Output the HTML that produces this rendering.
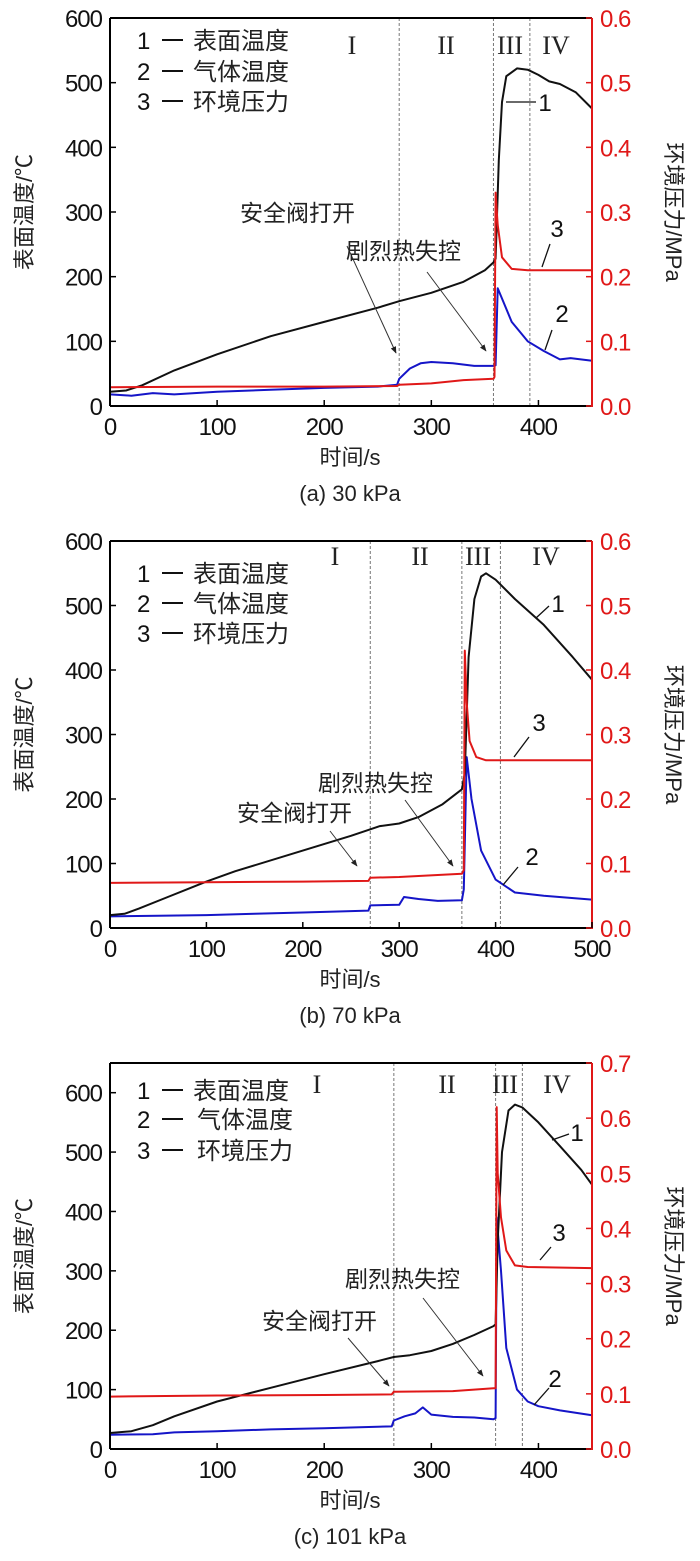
<!DOCTYPE html>
<html><head><meta charset="utf-8">
<style>
html,body{margin:0;padding:0;background:#fff;}
svg{display:block;}
text{font-family:"Liberation Sans","Noto Sans CJK SC",sans-serif;}
</style></head>
<body>
<svg id="chart" xmlns="http://www.w3.org/2000/svg" width="700" height="1561" viewBox="0 0 700 1561"></svg>
<script>
// ---- Panel (a) 30 kPa ----
const aTimeSurface = [0,15,30,60,100,150,200,250,270,300,330,350,358,360,363,366,370,380,390,400,410,420,435,450];
const aSurfaceTemp = [22,24,32,55,80,108,130,152,162,175,192,210,222,228,380,470,510,522,520,512,502,498,485,460];
const aTimeGas = [0,20,40,60,100,150,200,250,268,270,280,290,300,320,340,358,360,362,365,375,390,405,420,430,450];
const aGasTemp = [18,16,20,18,22,25,28,30,33,42,58,66,68,66,62,62,63,182,170,130,100,85,72,74,70];
const aTimePress = [0,100,200,268,270,300,330,358,359,360,362,366,375,390,450];
const aPressure = [0.029,0.030,0.030,0.031,0.033,0.035,0.040,0.042,0.045,0.33,0.28,0.23,0.212,0.21,0.21];
const aStageLines = [270,358,392];
const aLeftTicks = [0,100,200,300,400,500,600];
const aRightTicks = ["0.0","0.1","0.2","0.3","0.4","0.5","0.6"];
const aXTicks = [0,100,200,300,400];

// ---- Panel (b) 70 kPa ----
const bTimeSurface = [0,15,30,60,100,130,200,250,270,280,300,320,345,365,368,372,378,385,390,400,420,450,480,500];
const bSurfaceTemp = [20,22,30,48,72,88,120,143,153,158,162,172,192,215,240,420,510,545,550,540,510,470,420,385];
const bTimeGas = [0,50,100,150,200,268,270,300,305,320,340,365,367,370,375,385,400,420,450,500];
const bGasTemp = [18,19,20,22,24,27,35,36,48,45,42,43,60,265,200,120,75,55,50,44];
const bTimePress = [0,100,200,268,270,300,365,367,368,370,373,380,390,500];
const bPressure = [0.070,0.071,0.072,0.073,0.078,0.079,0.084,0.090,0.43,0.35,0.29,0.265,0.26,0.26];
const bStageLines = [270,365,405];
const bLeftTicks = [0,100,200,300,400,500,600];
const bRightTicks = ["0.0","0.1","0.2","0.3","0.4","0.5","0.6"];
const bXTicks = [0,100,200,300,400,500];

// ---- Panel (c) 101 kPa ----
const cTimeSurface = [0,20,40,60,100,150,200,250,265,280,300,320,340,358,360,362,366,372,378,385,400,420,440,450];
const cSurfaceTemp = [27,30,40,55,80,103,126,148,155,158,165,177,192,207,210,350,500,570,580,575,550,510,470,445];
const cTimeGas = [0,40,60,100,150,200,263,265,275,285,292,300,320,340,358,360,361,365,370,380,390,400,420,450];
const cGasTemp = [24,25,28,30,33,35,38,48,55,60,70,58,54,53,50,52,390,300,170,100,80,72,65,57];
const cTimePress = [0,100,200,263,265,320,358,360,361,362,365,370,378,390,450];
const cPressure = [0.095,0.097,0.098,0.099,0.104,0.105,0.110,0.110,0.62,0.50,0.42,0.36,0.333,0.330,0.328];
const cStageLines = [265,360,385];
const cLeftTicks = [0,100,200,300,400,500,600];
const cRightTicks = ["0.0","0.1","0.2","0.3","0.4","0.5","0.6","0.7"];
const cXTicks = [0,100,200,300,400];

const NS = "http://www.w3.org/2000/svg";
const svg = document.getElementById('chart');
function mk(tag, attrs, parent, txt){
  const e = document.createElementNS(NS, tag);
  for (const k in attrs) e.setAttribute(k, attrs[k]);
  if (txt !== undefined) e.textContent = txt;
  (parent||svg).appendChild(e);
  return e;
}
const defs = mk('defs',{});
const mkr = mk('marker',{id:'arr',viewBox:'0 0 10 10',refX:'9',refY:'5',markerWidth:'7',markerHeight:'7',orient:'auto-start-reverse'},defs);
mk('path',{d:'M0,1 L10,5 L0,9 z',fill:'#222'},mkr);

function panel(p){
  const g = mk('g',{});
  
  
  const X0=110, X1=592, Y0=p.top, Y1=p.bottom;
  const sx = v => X0 + v/p.xMax*(X1-X0);
  const sy = v => Y1 - v/p.yMax*(Y1-Y0);
  const sr = v => Y1 - v/p.rMax*(Y1-Y0);

  p.stages.forEach((s,i)=>{
    const l = mk('line',{x1:sx(s),x2:sx(s),y1:Y0,y2:Y1,stroke:'#777','stroke-width':1,'stroke-dasharray':'3,2'},g);
    
    
  });
  p.romans.forEach(r=>{
    const t = mk('text',{x:r[1],y:r[2],'font-size':26,'text-anchor':'middle',fill:'#222',style:'font-family:"Liberation Serif",serif'},g,r[0]);
    
    
  });

  function line(xs, ys, scale, color, name){
    let d='';
    xs.forEach((x,i)=>{ d += (i?'L':'M') + sx(x).toFixed(1) + ',' + scale(ys[i]).toFixed(1); });
    const pth = mk('path',{d:d,fill:'none',stroke:color,'stroke-width':2,'stroke-linejoin':'round'},g);
    
    
  }
  line(p.tg, p.gas, sy, '#1515c8', 'gas-temperature-line');
  line(p.ts, p.surf, sy, '#111', 'surface-temperature-line');
  line(p.tp, p.press, sr, '#e01818', 'pressure-line');

  mk('line',{x1:X0,x2:X1,y1:Y0,y2:Y0,stroke:'#000','stroke-width':2},g);
  const la = mk('line',{x1:X0,x2:X0,y1:Y0,y2:Y1,stroke:'#000','stroke-width':2},g);
  
  
  const xa = mk('line',{x1:X0,x2:X1,y1:Y1,y2:Y1,stroke:'#000','stroke-width':2},g);
  
  
  const ra = mk('line',{x1:X1,x2:X1,y1:Y0,y2:Y1+1,stroke:'#e01818','stroke-width':2},g);
  
  

  p.lt.forEach(v=>{
    const y = sy(v);
    mk('line',{x1:X0,x2:X0+6,y1:y,y2:y,stroke:'#000','stroke-width':1.5},g);
    const t = mk('text',{x:X0-8,y:y+9,'font-size':24,'text-anchor':'end',fill:'#111','letter-spacing':'-1'},g,String(v));
    
    
  });
  p.rt.forEach(v=>{
    const y = sr(parseFloat(v));
    mk('line',{x1:X1-6,x2:X1,y1:y,y2:y,stroke:'#e01818','stroke-width':1.5},g);
    const t = mk('text',{x:X1+8,y:y+9,'font-size':24,'text-anchor':'start',fill:'#e01818','letter-spacing':'-1'},g,v);
    
    
  });
  p.xt.forEach(v=>{
    const x = sx(v);
    mk('line',{x1:x,x2:x,y1:Y1,y2:Y1-6,stroke:'#000','stroke-width':1.5},g);
    const t = mk('text',{x:x,y:Y1+29,'font-size':24,'text-anchor':'middle',fill:'#111','letter-spacing':'-1'},g,String(v));
    
    
  });

  const cy = (Y0+Y1)/2;
  const yt = mk('text',{x:0,y:0,'font-size':22,'text-anchor':'middle',fill:'#222',transform:`translate(32,${cy}) rotate(-90)`},g,'表面温度/℃');
  
  
  const rtt = mk('text',{x:0,y:0,'font-size':22,'text-anchor':'middle',fill:'#222',transform:`translate(666,${cy}) rotate(90)`},g,'环境压力/MPa');
  
  
  const xt = mk('text',{x:350,y:Y1+59,'font-size':22,'text-anchor':'middle',fill:'#222'},g,'时间/s');
  
  
  const cap = mk('text',{x:350,y:Y1+95,'font-size':22,'text-anchor':'middle',fill:'#222'},g,p.caption);
  
  

  const names = ['表面温度','气体温度','环境压力'];
  p.legY.forEach((y,i)=>{
    const lg = mk('g',{},g);
    
    
    mk('text',{x:137,y:y+9,'font-size':24,fill:'#111'},lg,String(i+1));
    mk('line',{x1:162,x2:183,y1:y,y2:y,stroke:'#111','stroke-width':2},lg);
    mk('text',{x:p.legX[i],y:y+9,'font-size':24,fill:'#222'},lg,names[i]);
  });

  p.notes.forEach(n=>{
    const t = mk('text',{x:n.tx,y:n.ty,'font-size':23,fill:'#222'},g,n.text);
    
    
    const a = mk('line',{x1:n.a[0],y1:n.a[1],x2:n.a[2],y2:n.a[3],stroke:'#333','stroke-width':1,'marker-end':'url(#arr)'},g);
    
    
  });
  p.callouts.forEach(c=>{
    mk('line',{x1:c.l[0],y1:c.l[1],x2:c.l[2],y2:c.l[3],stroke:'#111','stroke-width':1.3},g);
    const t = mk('text',{x:c.x,y:c.y+9,'font-size':24,'text-anchor':'middle',fill:'#111'},g,c.t);
    
    
  });
}

panel({id:'a-30kpa', top:18, bottom:406, xMax:450, yMax:600, rMax:0.6,
  ts:aTimeSurface, surf:aSurfaceTemp, tg:aTimeGas, gas:aGasTemp, tp:aTimePress, press:aPressure,
  stages:aStageLines, lt:aLeftTicks, rt:aRightTicks, xt:aXTicks, caption:'(a) 30 kPa',
  romans:[['I',352,54],['II',446,54],['III',510,54],['IV',556,54]],
  legY:[40,71,101], legX:[193,193,193],
  notes:[{text:'安全阀打开',tx:240,ty:221,a:[347,246,396,353]},{text:'剧烈热失控',tx:346,ty:259,a:[427,272,486,351]}],
  callouts:[{t:'1',x:545,y:102,l:[506,102,536,102]},{t:'3',x:557,y:228,l:[542,267,550,244]},{t:'2',x:562,y:313,l:[545,350,552,330]}]
});
panel({id:'b-70kpa', top:541, bottom:928, xMax:500, yMax:600, rMax:0.6,
  ts:bTimeSurface, surf:bSurfaceTemp, tg:bTimeGas, gas:bGasTemp, tp:bTimePress, press:bPressure,
  stages:bStageLines, lt:bLeftTicks, rt:bRightTicks, xt:bXTicks, caption:'(b) 70 kPa',
  romans:[['I',335,565],['II',420,565],['III',478,565],['IV',546,565]],
  legY:[573,603,633], legX:[193,193,193],
  notes:[{text:'安全阀打开',tx:237,ty:821,a:[330,831,357,866]},{text:'剧烈热失控',tx:318,ty:791,a:[405,800,453,866]}],
  callouts:[{t:'1',x:558,y:603,l:[536,618,549,606]},{t:'3',x:539,y:722,l:[514,757,529,737]},{t:'2',x:532,y:856,l:[503,885,518,867]}]
});
panel({id:'c-101kpa', top:1063, bottom:1449, xMax:450, yMax:650, rMax:0.7,
  ts:cTimeSurface, surf:cSurfaceTemp, tg:cTimeGas, gas:cGasTemp, tp:cTimePress, press:cPressure,
  stages:cStageLines, lt:cLeftTicks, rt:cRightTicks, xt:cXTicks, caption:'(c) 101 kPa',
  romans:[['I',317,1093],['II',447,1093],['III',505,1093],['IV',557,1093]],
  legY:[1090,1119,1150], legX:[193,197,197],
  notes:[{text:'安全阀打开',tx:262,ty:1329,a:[348,1338,389,1386]},{text:'剧烈热失控',tx:345,ty:1287,a:[423,1298,483,1376]}],
  callouts:[{t:'1',x:577,y:1132,l:[552,1140,569,1134]},{t:'3',x:559,y:1232,l:[540,1260,551,1247]},{t:'2',x:555,y:1378,l:[534,1405,549,1388]}]
});
</script>
</body></html>
